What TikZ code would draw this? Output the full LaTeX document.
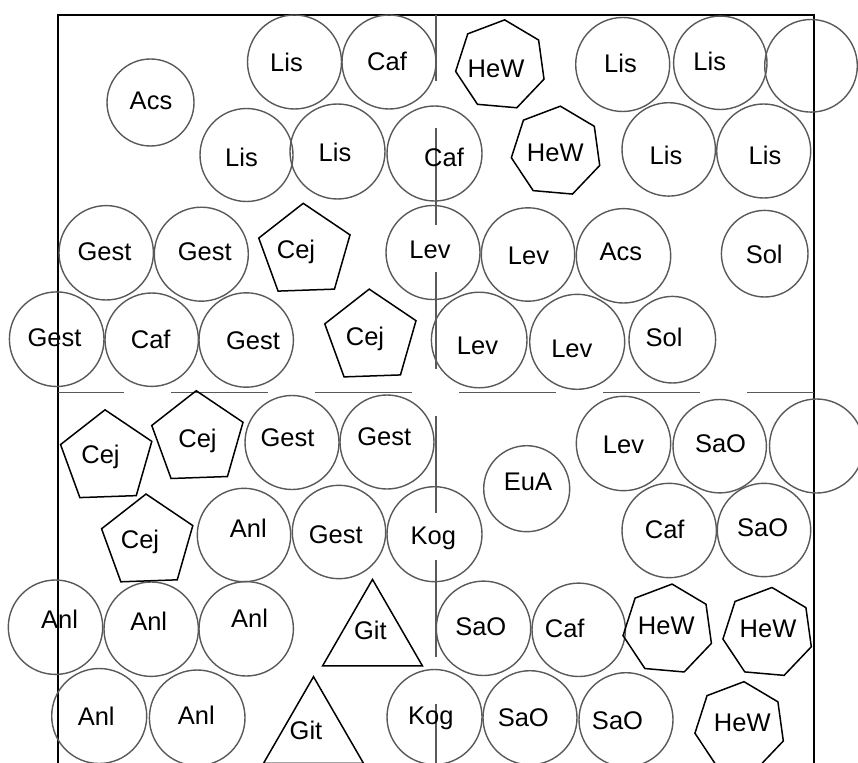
\documentclass[tikz,border=0pt]{standalone}
\usepackage{fontspec}
\setmainfont{Liberation Sans}
\usetikzlibrary{shapes.geometric}
\tikzset{
  circ/.style={circle, draw=black!65, line width=1.4pt, inner sep=0pt},
  pent/.style={regular polygon, regular polygon sides=5, draw=black, line width=1.5pt, inner sep=0pt, minimum size=96pt, shape border rotate=2},
  hept/.style={regular polygon, regular polygon sides=7, draw=black, line width=1.5pt, inner sep=0pt, minimum size=91pt, shape border rotate=-5},
  tri/.style={regular polygon, regular polygon sides=3, draw=black, line width=1.5pt, inner sep=0pt, minimum size=115.4pt},
  lbl/.style={inner sep=0pt, text height=18.3pt, text depth=0pt, font=\fontsize{25.5}{30}\selectfont},
  divider/.style={draw=black!65, line width=1.6pt, dash pattern=on 97pt off 47pt, dash phase=31pt},
  frame/.style={draw=black, line width=2.2pt}
}
\newcommand{\cnode}[7]{%
  \node[circ, minimum size=#4*2pt] (#1) at (#2,#3) {};
  \node[lbl] (#1-t) at (#6,#7) {#5};}
\begin{document}
\begin{tikzpicture}[x=1pt,y=-1pt]
\useasboundingbox (0,0) rectangle (858,762);
\clip (0,0) rectangle (858,762);
% frame and dividers
\coordinate (fl) at (58,770);
\coordinate (ftl) at (58,14.7);
\coordinate (ftr) at (813.7,14.7);
\coordinate (fr) at (813.7,770);
\draw[frame] (fl) -- (ftl) -- (ftr) -- (fr);
\coordinate (hl) at (58,392.5);
\coordinate (hr) at (813.7,392.5);
\draw[divider] (hl) -- (hr);
\coordinate (vt) at (436,14.7);
\coordinate (vb) at (436,770);
\draw[divider] (vt) -- (vb);
% circles
\cnode{acs1}{150.5}{102.5}{43.5}{Acs}{151}{100}
\cnode{lis1}{294.5}{62}{47}{Lis}{286.5}{62.5}
\cnode{caf1}{389}{62}{47}{Caf}{387}{61}
\cnode{lis2}{246.5}{155}{46.5}{Lis}{241.5}{157}
\cnode{lis3}{337.5}{151.5}{47.5}{Lis}{335}{152}
\cnode{caf2}{434.5}{153.5}{47.5}{Caf}{444}{157.5}
\cnode{lis4}{622.7}{64.5}{47}{Lis}{620.5}{63.5}
\cnode{lis5}{720.3}{62.8}{46.7}{Lis}{709.7}{61.7}
\node[circ, minimum size=92.6pt] (emp1) at (811,65.8) {};
\cnode{lis6}{668.7}{149.4}{46.7}{Lis}{666}{155}
\cnode{lis7}{763.7}{151}{47}{Lis}{765}{155}
\cnode{gest1}{106.2}{252.8}{47.2}{Gest}{104.5}{251.2}
\cnode{gest2}{201.3}{254.2}{47}{Gest}{204.7}{251.2}
\cnode{gest3}{56.7}{339.2}{47.3}{Gest}{54.5}{337.5}
\cnode{caf3}{151.7}{339.7}{46.7}{Caf}{150.7}{339.7}
\cnode{gest4}{246.2}{340}{47.2}{Gest}{253}{340.8}
\cnode{lev1}{433}{252.5}{47}{Lev}{430}{249}
\cnode{lev2}{528}{254.5}{46.7}{Lev}{528.5}{255.5}
\cnode{acs2}{623.5}{255.8}{47.2}{Acs}{620.8}{251.3}
\cnode{sol1}{764.7}{253.7}{43.3}{Sol}{764.2}{254.5}
\cnode{lev3}{479.2}{340}{47.8}{Lev}{477.5}{345.8}
\cnode{lev4}{577.2}{341.8}{47.5}{Lev}{571.8}{348.7}
\cnode{sol2}{672.3}{339.7}{43.3}{Sol}{664}{337}
\cnode{gest5}{292}{442.5}{47}{Gest}{287.5}{437.8}
\cnode{gest6}{387}{442}{47}{Gest}{384.2}{436.2}
\cnode{anl1}{244}{535}{46.7}{Anl}{248.3}{528.8}
\cnode{gest7}{339}{532}{46.7}{Gest}{335.8}{534.2}
\cnode{kog1}{434.5}{534.2}{47.5}{Kog}{433.3}{535.5}
\cnode{eua}{526.7}{488.7}{43}{EuA}{528}{481.3}
\cnode{lev5}{623.5}{443.5}{47.2}{Lev}{623.5}{444.2}
\cnode{sao1}{719.7}{446.2}{46.7}{SaO}{720.5}{443.7}
\node[circ, minimum size=94pt] (emp2) at (816.5,446) {};
\cnode{caf4}{669.2}{530.5}{47.2}{Caf}{664.7}{529.7}
\cnode{sao2}{764}{530}{46.7}{SaO}{762.7}{527.5}
\cnode{anl2}{55.5}{627.2}{47.2}{Anl}{59.5}{619.7}
\cnode{anl3}{151.2}{629.2}{47.2}{Anl}{148.7}{621.2}
\cnode{anl4}{246.2}{628.8}{47.2}{Anl}{249.5}{618.8}
\cnode{anl5}{99.2}{716}{47.5}{Anl}{96.2}{716.3}
\cnode{anl6}{197.2}{717.8}{47.8}{Anl}{196.3}{715.5}
\cnode{kog2}{434.5}{717}{47.5}{Kog}{430.8}{715}
\cnode{sao3}{483.5}{628.3}{47.2}{SaO}{480.8}{626.7}
\cnode{caf5}{578.7}{629.8}{46.7}{Caf}{564.7}{628}
\cnode{sao4}{530}{717.7}{47}{SaO}{523.3}{717.5}
\cnode{sao5}{626}{719.7}{47}{SaO}{617.5}{720.8}
% pentagons
\node[pent] (cej1) at (304.9,251.3) {}; \node[lbl] (cej1-t) at (296,249) {Cej};
\node[pent] (cej2) at (370.9,337.1) {}; \node[lbl] (cej2-t) at (365,336) {Cej};
\node[pent] (cej3) at (106.7,457.8) {}; \node[lbl] (cej3-t) at (100.5,454) {Cej};
\node[pent] (cej4) at (197.9,438.7) {}; \node[lbl] (cej4-t) at (197.5,438.8) {Cej};
\node[pent] (cej5) at (147.7,542) {}; \node[lbl] (cej5-t) at (140,539.2) {Cej};
% heptagons
\node[hept] (hew1) at (500.7,65.2) {}; \node[lbl] (hew1-t) at (496,68) {HeW};
\node[hept] (hew2) at (556.4,151.5) {}; \node[lbl] (hew2-t) at (555.3,152) {HeW};
\node[hept] (hew3) at (668.1,629.4) {}; \node[lbl] (hew3-t) at (666.3,625.2) {HeW};
\node[hept] (hew4) at (768,632.8) {}; \node[lbl] (hew4-t) at (768,628.5) {HeW};
\node[hept] (hew5) at (740,727) {}; \node[lbl] (hew5-t) at (742.3,722.8) {HeW};
% triangles
\node[tri] (git1) at (372.5,637.1) {}; \node[lbl] (git1-t) at (370.3,630.8) {Git};
\node[tri] (git2) at (313.5,734.4) {}; \node[lbl] (git2-t) at (306,730.8) {Git};
\end{tikzpicture}
\end{document}
